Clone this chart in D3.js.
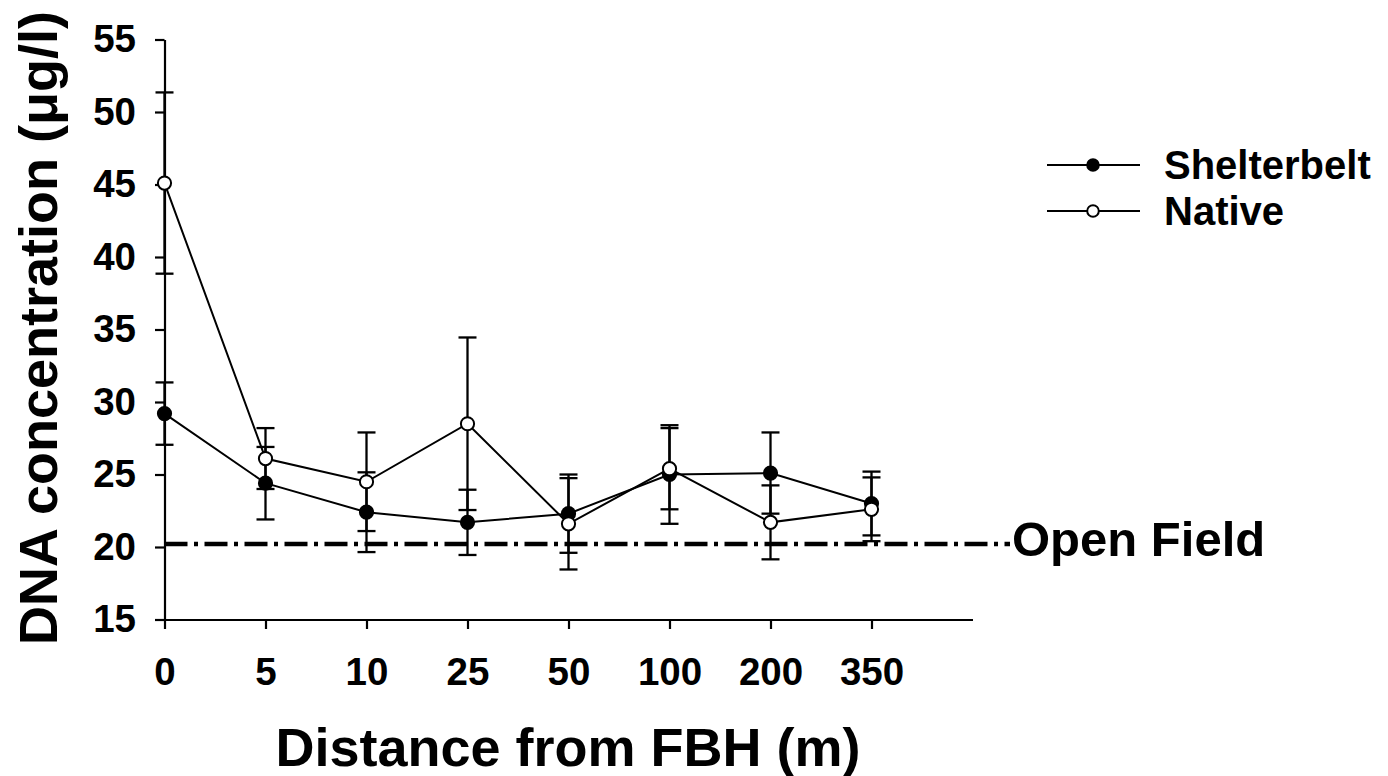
<!DOCTYPE html>
<html>
<head>
<meta charset="utf-8">
<script src="https://cdn.jsdelivr.net/npm/d3@7"></script>
<style>
  body { margin: 0; background: #fff; }
  svg text { font-family: "Liberation Sans", Arial, sans-serif; font-weight: bold; fill: #000; }
</style>
</head>
<body>
<div class="canvas"></div>
<script>
// data
const categories = ['0', '5', '10', '25', '50', '100', '200', '350'];
const shelterbelt = [29.2, 24.4, 22.4, 21.7, 22.3, 25.0, 25.1, 23.0];
const shelterbeltErr = [2.15, 2.5, 2.75, 2.25, 2.7, 3.4, 2.8, 2.2];
const native = [45.1, 26.1, 24.5, 28.5, 21.6, 25.4, 21.7, 22.6];
const nativeErr = [6.25, 2.1, 3.4, 5.95, 3.15, 2.8, 2.55, 2.2];
const openField = 20.2;
const yTicks = [15, 20, 25, 30, 35, 40, 45, 50, 55];

const width = 1388, height = 776;

const svg = d3.select('.canvas')
  .append('svg')
  .attr('width', width)
  .attr('height', height);

// plot area
const margin = {top: 39.5, left: 164.5};
const plotW = 808, plotH = 580;

const graph = svg.append('g')
  .attr('transform', `translate(${margin.left}, ${margin.top})`);

// scales - x has one empty slot at the right end
const x = d3.scaleLinear().domain([0, categories.length]).range([0, plotW]);
const y = d3.scaleLinear().domain([15, 55]).range([plotH, 0]);

// axes
const xAxis = d3.axisBottom(x)
  .tickValues(d3.range(categories.length))
  .tickFormat(i => categories[i])
  .tickSizeInner(9.5).tickSizeOuter(0).tickPadding(29);

const yAxis = d3.axisLeft(y)
  .tickValues(yTicks)
  .tickSizeInner(9.5).tickSizeOuter(0).tickPadding(19);

const xAxisGroup = graph.append('g')
  .attr('transform', `translate(0, ${plotH})`)
  .call(xAxis);
const yAxisGroup = graph.append('g').call(yAxis);

[xAxisGroup, yAxisGroup].forEach(g => {
  g.attr('font-family', null).attr('font-size', null);
  g.selectAll('path, line').attr('stroke', '#000').attr('stroke-width', 2.2);
  g.selectAll('text').style('font-size', '38.5px');
});

// open field reference line
graph.append('line')
  .attr('x1', 0).attr('x2', 1010 - margin.left)
  .attr('y1', y(openField)).attr('y2', y(openField))
  .attr('stroke', '#000')
  .attr('stroke-width', 4.5)
  .attr('stroke-dasharray', '23 6.5 4 6.5');

graph.append('text')
  .attr('x', 1012 - margin.left)
  .attr('y', y(openField) + 12)
  .style('font-size', '49px')
  .text('Open Field');

// series
const series = [
  {name: 'Shelterbelt', values: shelterbelt, err: shelterbeltErr, fill: '#000'},
  {name: 'Native', values: native, err: nativeErr, fill: '#fff'}
];

const line = d3.line()
  .x((d, i) => x(i))
  .y(d => y(d));

series.forEach(s => {
  const g = graph.append('g');
  const pts = s.values.map((v, i) => ({i, v, e: s.err[i]}));

  // error bars
  const eb = g.selectAll('g.err').data(pts).enter().append('g')
    .attr('stroke', '#000').attr('stroke-width', 2.3);
  eb.append('line')
    .attr('x1', d => x(d.i)).attr('x2', d => x(d.i))
    .attr('y1', d => y(d.v + d.e)).attr('y2', d => y(d.v - d.e));
  [1, -1].forEach(sign => {
    eb.append('line')
      .attr('x1', d => x(d.i) - 9).attr('x2', d => x(d.i) + 9)
      .attr('y1', d => y(d.v + sign * d.e)).attr('y2', d => y(d.v + sign * d.e));
  });

  g.append('path')
    .attr('d', line(s.values))
    .attr('fill', 'none')
    .attr('stroke', '#000')
    .attr('stroke-width', 2);

  g.selectAll('circle').data(pts).enter().append('circle')
    .attr('cx', d => x(d.i))
    .attr('cy', d => y(d.v))
    .attr('r', 6.6)
    .attr('fill', s.fill)
    .attr('stroke', '#000')
    .attr('stroke-width', 2);
});

// legend
const legend = svg.append('g');
series.forEach((s, k) => {
  const ly = 165 + k * 46;
  legend.append('line')
    .attr('x1', 1047).attr('x2', 1140)
    .attr('y1', ly).attr('y2', ly)
    .attr('stroke', '#000').attr('stroke-width', 2);
  legend.append('circle')
    .attr('cx', 1093).attr('cy', ly).attr('r', 5.8)
    .attr('fill', s.fill).attr('stroke', '#000').attr('stroke-width', 2);
  legend.append('text')
    .attr('x', 1164).attr('y', ly + 14)
    .style('font-size', '40px')
    .text(s.name);
});

// axis titles
svg.append('text')
  .attr('x', 568).attr('y', 766)
  .attr('text-anchor', 'middle')
  .style('font-size', '54px')
  .text('Distance from FBH (m)');

svg.append('text')
  .attr('transform', 'translate(57, 328) rotate(-90)')
  .attr('text-anchor', 'middle')
  .style('font-size', '54px')
  .text('DNA concentration (μg/l)');
</script>
</body>
</html>
